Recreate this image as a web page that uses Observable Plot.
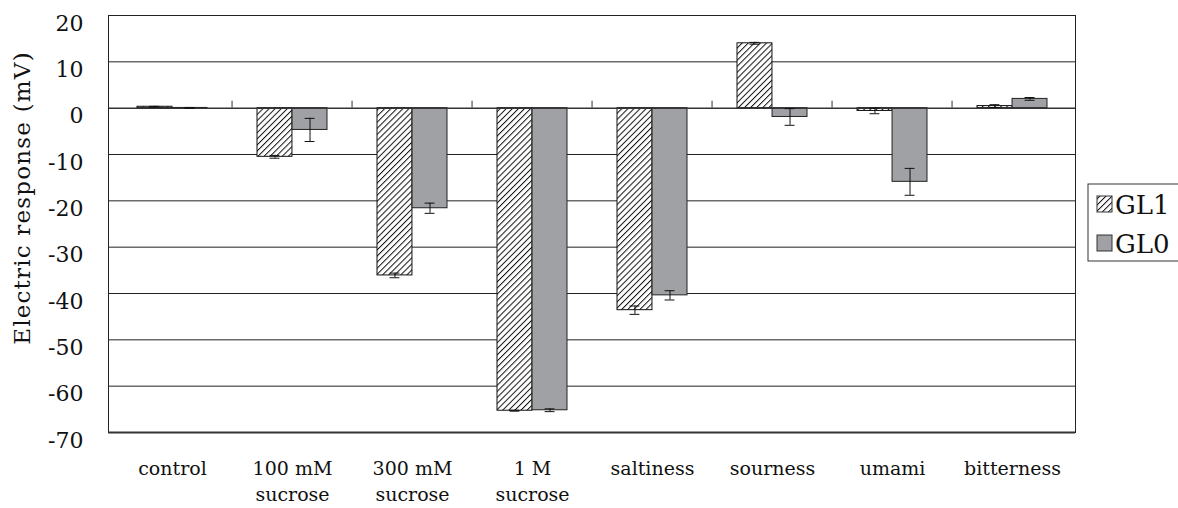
<!DOCTYPE html>
<html>
<head>
<meta charset="utf-8">
<script src="https://cdn.jsdelivr.net/npm/d3@7"></script>
<script src="https://cdn.jsdelivr.net/npm/@observablehq/plot@0.6"></script>
<style>
  html, body { margin: 0; padding: 0; background: #fff; overflow: hidden; }
  #chart { position: relative; width: 1178px; height: 508px; }
  svg { font-family: "DejaVu Serif", serif; }
</style>
</head>
<body>
<div id="chart"></div>
<script>
const categories = ["control", "100 mM\nsucrose", "300 mM\nsucrose", "1 M\nsucrose", "saltiness", "sourness", "umami", "bitterness"];
const seriesNames = ["GL1", "GL0"];
const gl1 = [0.3, -10.5, -36.1, -65.3, -43.6, 14.0, -0.6, 0.45];
const gl1Err = [0.1, 0.3, 0.5, 0.1, 0.9, 0.2, 0.6, 0.3];
const gl0 = [0.05, -4.7, -21.6, -65.2, -40.4, -1.9, -15.9, 2.0];
const gl0Err = [0.1, 2.5, 1.1, 0.3, 1.0, 1.8, 2.9, 0.3];
const yTicks = [20, 10, 0, -10, -20, -30, -40, -50, -60, -70];
const gridValues = [10, -10, -20, -30, -40, -50, -60];
const yLabel = "Electric response (mV)";

const rows = categories.flatMap((c, i) => [
  {cat: c, series: seriesNames[0], v: gl1[i], e: gl1Err[i]},
  {cat: c, series: seriesNames[1], v: gl0[i], e: gl0Err[i]}
]);
const r1 = rows.filter(d => d.series === "GL1");
const r0 = rows.filter(d => d.series === "GL0");
const half = 35.05;

const plot = Plot.plot({
  width: 1178,
  height: 508,
  marginLeft: 108,
  marginRight: 103,
  marginTop: 15,
  marginBottom: 76,
  style: {fontFamily: "DejaVu Serif", background: "white"},
  x: {domain: categories, paddingInner: 0.42, paddingOuter: 0.21, axis: null},
  y: {domain: [-70, 20], axis: null},
  marks: [
    Plot.ruleY(gridValues, {stroke: "#222", strokeWidth: 1}),
    Plot.barY(r1, {x: "cat", y: "v", fill: "url(#hatch)", stroke: "#111", strokeWidth: 1, insetRight: half}),
    Plot.barY(r0, {x: "cat", y: "v", fill: "#a0a1a5", stroke: "#222", strokeWidth: 1, insetLeft: half}),
    Plot.ruleY([0], {stroke: "#333", strokeWidth: 1.5}),
    Plot.ruleX(categories.slice(1), {x: d => d, y1: 0, y2: 1.5, dx: -60.44, stroke: "#333", strokeWidth: 1}),
    Plot.ruleX(r1, {x: "cat", y1: d => d.v - d.e, y2: d => d.v + d.e, dx: -half / 2, stroke: "#111", strokeWidth: 1}),
    Plot.tickY(r1, {x: "cat", y: d => d.v - d.e, insetLeft: 12.5, insetRight: 47.6, stroke: "#111", strokeWidth: 1}),
    Plot.tickY(r1, {x: "cat", y: d => d.v + d.e, insetLeft: 12.5, insetRight: 47.6, stroke: "#111", strokeWidth: 1}),
    Plot.ruleX(r0, {x: "cat", y1: d => d.v - d.e, y2: d => d.v + d.e, dx: half / 2, stroke: "#111", strokeWidth: 1}),
    Plot.tickY(r0, {x: "cat", y: d => d.v - d.e, insetLeft: 47.6, insetRight: 12.5, stroke: "#111", strokeWidth: 1}),
    Plot.tickY(r0, {x: "cat", y: d => d.v + d.e, insetLeft: 47.6, insetRight: 12.5, stroke: "#111", strokeWidth: 1}),
    Plot.frame({stroke: "#222", strokeWidth: 1}),
    Plot.ruleY([-70], {stroke: "#333", strokeWidth: 2}),
    Plot.axisY({ticks: yTicks, tickSize: 0, tickPadding: 25, tickFormat: d => String(d), fontSize: 22, dy: 8, label: null, fill: "#111"}),
    Plot.axisX({tickSize: 0, tickPadding: 24, fontSize: 19, lineHeight: 1.38, label: null, fill: "#111"})
  ]
});

const svg = d3.select(plot);
const defs = svg.insert("defs", ":first-child");
const pat = defs.append("pattern")
  .attr("id", "hatch")
  .attr("patternUnits", "userSpaceOnUse")
  .attr("width", 4.3).attr("height", 4.3)
  .attr("patternTransform", "rotate(45)");
pat.append("rect").attr("width", 4.3).attr("height", 4.3).attr("fill", "white");
pat.append("line").attr("x1", 0).attr("y1", 0).attr("x2", 0).attr("y2", 4.3)
  .attr("stroke", "#111").attr("stroke-width", 2);

// y-axis title
svg.append("text")
  .attr("transform", "translate(24,198) rotate(-90)")
  .attr("text-anchor", "middle")
  .attr("dominant-baseline", "middle")
  .attr("font-size", 23)
  .attr("letter-spacing", 1.2)
  .attr("fill", "#111")
  .text(yLabel);

// legend
const lg = svg.append("g").attr("font-size", 26).attr("fill", "#111").attr("text-anchor", "start");
lg.append("rect").attr("x", 1088).attr("y", 184).attr("width", 100).attr("height", 77)
  .attr("fill", "white").attr("stroke", "#333").attr("stroke-width", 1);
const swatchFill = ["url(#hatch)", "#a0a1a5"];
seriesNames.forEach((name, i) => {
  const y0 = 196 + i * 39;
  lg.append("rect").attr("x", 1097).attr("y", y0).attr("width", 15).attr("height", 16)
    .attr("fill", swatchFill[i]).attr("stroke", "#333").attr("stroke-width", 1);
  lg.append("text").attr("x", 1115).attr("y", y0 + 18).attr("text-anchor", "start").text(name);
});

document.getElementById("chart").appendChild(plot);
</script>
</body>
</html>
